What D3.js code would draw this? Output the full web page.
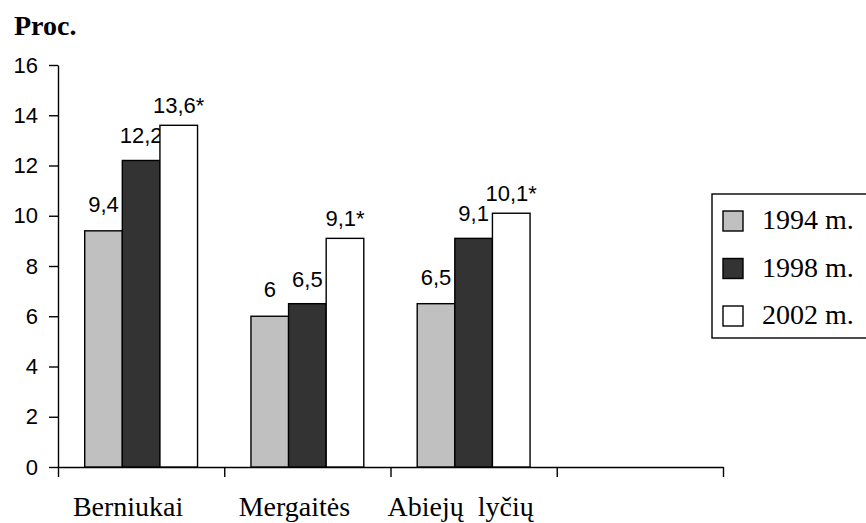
<!DOCTYPE html>
<html>
<head>
<meta charset="utf-8">
<script src="https://cdn.jsdelivr.net/npm/d3@7"></script>
<style>
  body { margin: 0; background: #fff; }
  svg { display: block; }
  .tick text { font-family: "Liberation Sans", Arial, sans-serif; font-size: 22px; fill: #000; }
  .vlabel { font-family: "Liberation Sans", Arial, sans-serif; font-size: 22px; fill: #000; }
  .serif { font-family: "Liberation Serif", "Times New Roman", serif; fill: #000; }
</style>
</head>
<body>
<div id="chart"></div>
<script>
// data
var categories = ["Berniukai", "Mergaitės", "Abiejų  lyčių", ""];
var seriesNames = ["1994 m.", "1998 m.", "2002 m."];
var values1994 = [9.4, 6, 6.5];
var values1998 = [12.2, 6.5, 9.1];
var values2002 = [13.6, 9.1, 10.1];
var labels1994 = ["9,4", "6", "6,5"];
var labels1998 = ["12,2", "6,5", "9,1"];
var labels2002 = ["13,6*", "9,1*", "10,1*"];
var yTicks = [0, 2, 4, 6, 8, 10, 12, 14, 16];

var seriesColors = ["#c0c0c0", "#333333", "#ffffff"];
var labelGap = [19, 17, 12];   // distance of the value label above the bar

var width = 866, height = 523;
var plotLeft = 58, plotRight = 723, plotTop = 65, plotBottom = 467;

var svg = d3.select("#chart").append("svg")
    .attr("width", width)
    .attr("height", height);

var x = d3.scaleBand()   // one band per category, the last one stays empty
    .domain(categories)
    .range([plotLeft, plotRight])
    .padding(0);

var xs = d3.scaleBand()   // bars inside a category
    .domain(seriesNames)
    .range([0, x.bandwidth()])
    .paddingInner(0)
    .paddingOuter(0.71);

var y = d3.scaleLinear()
    .domain([0, 16])
    .range([plotBottom, plotTop]);

// y axis
var yAxis = svg.append("g")
    .attr("transform", "translate(" + plotLeft + ",0)")
    .call(d3.axisLeft(y).tickValues(yTicks).tickSize(9).tickPadding(11).tickSizeOuter(0));
yAxis.selectAll("line, path").attr("stroke", "#000").attr("stroke-width", 1.4);

// x axis: ticks on the category borders, no labels
var xb = d3.scaleLinear().domain([0, categories.length]).range([plotLeft, plotRight]);
var xAxis = svg.append("g")
    .attr("transform", "translate(0," + plotBottom + ")")
    .call(d3.axisBottom(xb).ticks(categories.length).tickSize(10).tickSizeOuter(0).tickFormat(""));
xAxis.selectAll("line, path").attr("stroke", "#000").attr("stroke-width", 1.4);

// bars
var series = [
    { name: seriesNames[0], color: seriesColors[0], values: values1994, labels: labels1994, gap: labelGap[0] },
    { name: seriesNames[1], color: seriesColors[1], values: values1998, labels: labels1998, gap: labelGap[1] },
    { name: seriesNames[2], color: seriesColors[2], values: values2002, labels: labels2002, gap: labelGap[2] }
];

series.forEach(function (s) {
    svg.selectAll(null)
        .data(s.values)
        .enter().append("rect")
        .attr("x", function (d, i) { return x(categories[i]) + xs(s.name); })
        .attr("y", function (d) { return y(d); })
        .attr("width", xs.bandwidth())
        .attr("height", function (d) { return y(0) - y(d); })
        .attr("fill", s.color)
        .attr("stroke", "#000")
        .attr("stroke-width", 1.4);

    svg.selectAll(null)
        .data(s.values)
        .enter().append("text")
        .attr("class", "vlabel")
        .attr("x", function (d, i) { return x(categories[i]) + xs(s.name) + xs.bandwidth() / 2; })
        .attr("y", function (d) { return y(d) - s.gap; })
        .attr("text-anchor", "middle")
        .text(function (d, i) { return s.labels[i]; });
});

// category labels (sit a little left of the band centre)
svg.selectAll(null)
    .data(categories)
    .enter().append("text")
    .attr("class", "serif")
    .attr("x", function (d) { return x(d) + x.bandwidth() / 2 - 13; })
    .attr("y", 516)
    .attr("text-anchor", "middle")
    .style("font-size", "28px")
    .style("white-space", "pre")
    .text(function (d) { return d; });

// axis title
svg.append("text")
    .attr("class", "serif")
    .attr("x", 14)
    .attr("y", 35)
    .style("font-size", "28px")
    .style("font-weight", "bold")
    .text("Proc.");

// legend
var legend = svg.append("g");
legend.append("rect")
    .attr("x", 712).attr("y", 194)
    .attr("width", 170).attr("height", 144)
    .attr("fill", "#fff").attr("stroke", "#000").attr("stroke-width", 1.4);

var items = legend.selectAll(null)
    .data(series)
    .enter().append("g")
    .attr("transform", function (d, i) { return "translate(723," + (221 + i * 47.5) + ")"; });
items.append("rect")
    .attr("x", 0).attr("y", -10)
    .attr("width", 20).attr("height", 20)
    .attr("fill", function (d) { return d.color; })
    .attr("stroke", "#000").attr("stroke-width", 1.4);
items.append("text")
    .attr("class", "serif")
    .attr("x", 39)
    .attr("y", 8)
    .style("font-size", "28px")
    .text(function (d) { return d.name; });
</script>
</body>
</html>
